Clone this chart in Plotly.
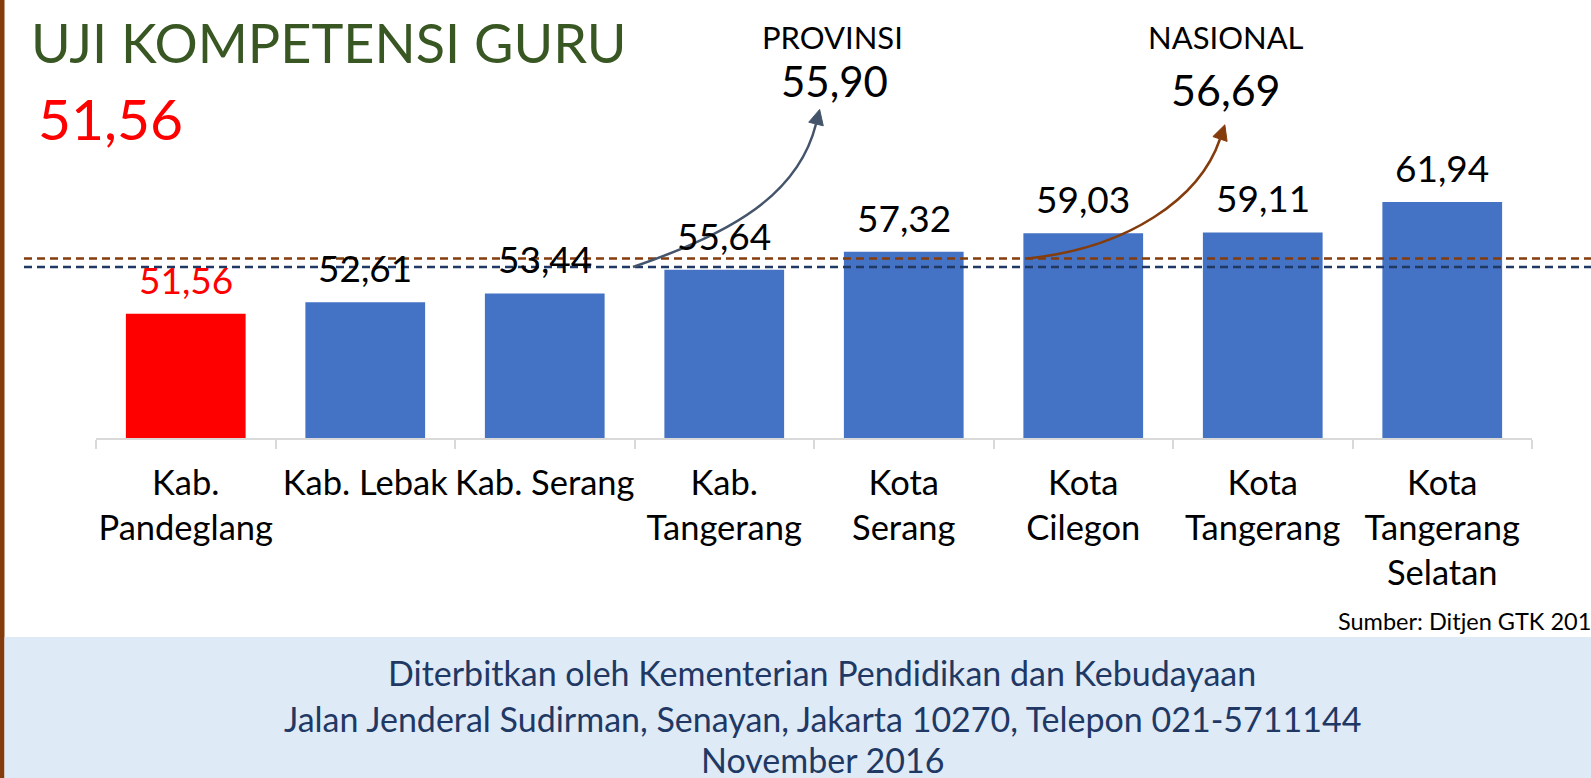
import plotly.graph_objects as go

# ---- data ----
categories = ["Kab.<br>Pandeglang", "Kab. Lebak", "Kab. Serang", "Kab.<br>Tangerang",
              "Kota<br>Serang", "Kota<br>Cilegon", "Kota<br>Tangerang", "Kota<br>Tangerang<br>Selatan"]
values = [51.56, 52.61, 53.44, 55.64, 57.32, 59.03, 59.11, 61.94]
value_labels = ["51,56", "52,61", "53,44", "55,64", "57,32", "59,03", "59,11", "61,94"]
highlight_index = 0
provinsi_value = 55.90
provinsi_label = "55,90"
nasional_value = 56.69
nasional_label = "56,69"
headline_label = "51,56"

# ---- layout geometry ----
W, H = 1591, 778
ML, MR, MT, MB = 96, 59, 40, 340
PW, PH = W - ML - MR, H - MT - MB
Y0 = 40
Y1 = Y0 + PH / 10.757

FONT = "Lato"
BLUE = "#4472C4"
RED = "#FF0000"
BROWN = "#843C0C"
NAVY = "#1F3864"
SLATE = "#44546A"
GREEN = "#385723"


def px(x):
    return (x - ML) / PW


def py(y):
    return ((H - MB) - y) / PH


bar_colors = [RED if i == highlight_index else BLUE for i in range(len(values))]

fig = go.Figure()
fig.add_trace(go.Bar(x=categories, y=values, marker=dict(color=bar_colors, line=dict(width=0)),
                     hoverinfo="skip"))

shapes = []
annotations = []

# left brown edge
shapes.append(dict(type="rect", xref="paper", yref="paper", x0=px(0), x1=px(4.5), y0=py(H), y1=py(0),
                   fillcolor=BROWN, line=dict(width=0), layer="below"))
# footer band
shapes.append(dict(type="rect", xref="paper", yref="paper", x0=px(4.5), x1=px(W), y0=py(H), y1=py(637),
                   fillcolor="#DEEAF6", line=dict(width=0), layer="below"))

# reference lines
shapes.append(dict(type="line", xref="paper", yref="y", x0=px(24), x1=px(W), y0=nasional_value, y1=nasional_value,
                   line=dict(color=BROWN, width=2.5, dash="8px,5px"), layer="above"))
shapes.append(dict(type="line", xref="paper", yref="y", x0=px(24), x1=px(W), y0=provinsi_value, y1=provinsi_value,
                   line=dict(color=NAVY, width=2.5, dash="8px,5px"), layer="above"))


def curved_arrow(p0, p1, p2, p3, color, head_len=15, head_half=7.5):
    path = "M {} {} C {} {}, {} {}, {} {}".format(px(p0[0]), py(p0[1]), px(p1[0]), py(p1[1]),
                                                  px(p2[0]), py(p2[1]), px(p3[0]), py(p3[1]))
    shapes.append(dict(type="path", xref="paper", yref="paper", path=path,
                       line=dict(color=color, width=2.5), layer="above"))
    dx, dy = p3[0] - p2[0], p3[1] - p2[1]
    n = (dx * dx + dy * dy) ** 0.5
    ux, uy = dx / n, dy / n
    tip = (p3[0] + ux * head_len, p3[1] + uy * head_len)
    b1 = (p3[0] - uy * head_half, p3[1] + ux * head_half)
    b2 = (p3[0] + uy * head_half, p3[1] - ux * head_half)
    tri = "M {} {} L {} {} L {} {} Z".format(px(tip[0]), py(tip[1]), px(b1[0]), py(b1[1]), px(b2[0]), py(b2[1]))
    shapes.append(dict(type="path", xref="paper", yref="paper", path=tri,
                       fillcolor=color, line=dict(color=color, width=1), layer="above"))


# y pixel of reference values
def ypix(v):
    return (H - MB) - (v - Y0) / (Y1 - Y0) * PH


curved_arrow((633, ypix(provinsi_value)), (733, 233), (798.5, 194), (816, 124), SLATE)
curved_arrow((1028, ypix(nasional_value)), (1128, 248), (1199.6, 199), (1220, 139), BROWN)

# value labels
for i, (c, v, t) in enumerate(zip(categories, values, value_labels)):
    annotations.append(dict(x=c, y=v, xref="x", yref="y", text=t, showarrow=False, yanchor="bottom",
                            yshift=10, font=dict(family=FONT, size=37, color=RED if i == highlight_index else "black")))

# titles
annotations.append(dict(xref="paper", yref="paper", x=px(29), y=py(43), text="UJI KOMPETENSI GURU",
                        showarrow=False, xanchor="left", yanchor="middle",
                        font=dict(family=FONT, size=54, color=GREEN)))
annotations.append(dict(xref="paper", yref="paper", x=px(36), y=py(118), text=headline_label,
                        showarrow=False, xanchor="left", yanchor="middle",
                        font=dict(family=FONT, size=57, color=RED)))
annotations.append(dict(xref="paper", yref="paper", x=px(832), y=py(37), text="PROVINSI",
                        showarrow=False, xanchor="center", yanchor="middle",
                        font=dict(family=FONT, size=31, color="black")))
annotations.append(dict(xref="paper", yref="paper", x=px(834), y=py(81), text=provinsi_label,
                        showarrow=False, xanchor="center", yanchor="middle",
                        font=dict(family=FONT, size=42, color="black")))
annotations.append(dict(xref="paper", yref="paper", x=px(1226), y=py(37), text="NASIONAL",
                        showarrow=False, xanchor="center", yanchor="middle",
                        font=dict(family=FONT, size=31, color="black")))
annotations.append(dict(xref="paper", yref="paper", x=px(1226), y=py(89), text=nasional_label,
                        showarrow=False, xanchor="center", yanchor="middle",
                        font=dict(family=FONT, size=43, color="black")))

# source
annotations.append(dict(xref="paper", yref="paper", x=px(1336), y=py(621), text="Sumber: Ditjen GTK 2016",
                        showarrow=False, xanchor="left", yanchor="middle",
                        font=dict(family=FONT, size=23.5, color="black")))

# footer text
footer_lines = ["Diterbitkan oleh Kementerian Pendidikan dan Kebudayaan",
                "Jalan Jenderal Sudirman, Senayan, Jakarta 10270, Telepon 021-5711144",
                "November 2016"]
for line, yc in zip(footer_lines, [672, 718, 759]):
    annotations.append(dict(xref="paper", yref="paper", x=px(822), y=py(yc), text=line,
                            showarrow=False, xanchor="center", yanchor="middle",
                            font=dict(family=FONT, size=34, color=NAVY)))

fig.update_layout(
    width=W, height=H,
    margin=dict(l=ML, r=MR, t=MT, b=MB, pad=0),
    paper_bgcolor="white", plot_bgcolor="rgba(0,0,0,0)",
    showlegend=False,
    bargap=0.333,
    shapes=shapes,
    annotations=annotations,
    xaxis=dict(showline=True, linecolor="#D9D9D9", linewidth=1.5, ticks="outside", tickson="boundaries",
               ticklen=9, tickcolor="#D9D9D9", tickwidth=1.5, showgrid=False, zeroline=False,
               ticklabelstandoff=14,
               tickfont=dict(family=FONT, size=34.5, color="black"), tickangle=0, fixedrange=True),
    yaxis=dict(range=[Y0, Y1], visible=False, showgrid=False, zeroline=False, fixedrange=True),
)

fig.write_html("out.html", config={"displayModeBar": False})
